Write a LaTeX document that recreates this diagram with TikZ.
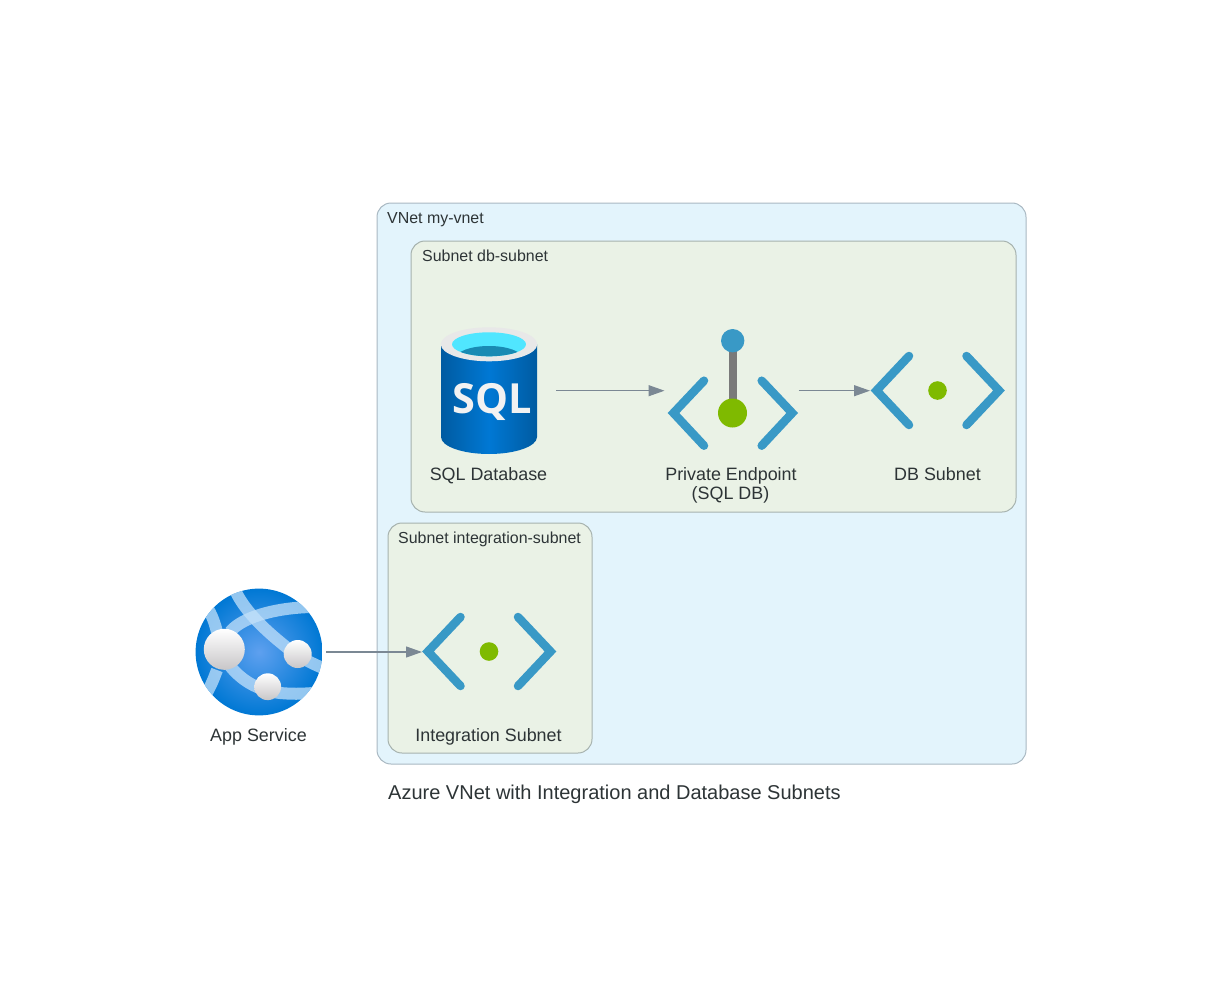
\documentclass[tikz,border=0pt]{standalone}
\usepackage{fontspec}
\setmainfont{Liberation Sans}
\newfontfamily\sqlfont{Open Sans}
\usetikzlibrary{arrows.meta}

\definecolor{inkdark}{HTML}{2D3436}
\definecolor{edgegray}{HTML}{7B8894}
\definecolor{vnetfill}{HTML}{E3F4FC}
\definecolor{vnetline}{HTML}{A9B8C2}
\definecolor{subnetfill}{HTML}{EAF2E6}
\definecolor{subnetline}{HTML}{A6B2AE}
\definecolor{azureblue}{HTML}{3999C6}
\definecolor{azuregreen}{HTML}{7FBA00}
\definecolor{poledark}{HTML}{7A7A7A}
\definecolor{globecore}{HTML}{5EA0EF}
\definecolor{globeedge}{HTML}{0078D4}
\definecolor{globeband}{HTML}{C3E1FA}
\definecolor{sqlside}{HTML}{005BA1}
\definecolor{sqlmiddle}{HTML}{0078D4}
\definecolor{sqlrim}{HTML}{E8E8E8}
\definecolor{sqlwater}{HTML}{50E6FF}
\definecolor{sqldeep}{HTML}{198AB3}
\definecolor{ballshade}{HTML}{C8C6C8}

\tikzset{
    vnetbox/.style = {draw = vnetline, fill = vnetfill, line width = 1pt, rounded corners = 14pt},
    subnetbox/.style = {draw = subnetline, fill = subnetfill, line width = 1pt, rounded corners = 14pt},
    groupname/.style = {anchor = base west, text = inkdark, font = \fontsize{15.95}{18}\selectfont},
    iconname/.style = {text = inkdark, anchor = base, inner sep = 0pt, font = \fontsize{17.9}{18}\selectfont},
    iconspot/.style = {minimum width = 134pt, minimum height = 10pt, inner sep = 0pt, outer sep = 0pt},
    flow/.style = {draw = edgegray, line width = 1.2pt, -{Triangle[length = 16pt, width = 11pt, fill = edgegray]}},
    chevron/.style = {draw = azureblue, line width = 8.5pt, line cap = round, line join = miter},
    ball/.style = {top color = white, bottom color = ballshade, draw = none},
    band/.style = {draw = globeband, opacity = .75, line width = 12pt},
    subneticon/.pic = {
        \draw [chevron] (-28.5, -34.5) -- (-61, 0) -- (-28.5, 34.5);
        \draw [chevron] (29, -34.5) -- (61.5, 0) -- (29, 34.5);
        \fill [azuregreen] (0, 0) circle (9.3);
    }
}

\begin{document}
\begin{tikzpicture}[x = 1pt, y = -1pt, >= stealth]
    \useasboundingbox (0, 0) rectangle (1229, 998);

    \draw [vnetbox] (377, 203) rectangle (1026, 764);
    \draw [subnetbox] (411, 241) rectangle (1016, 512);
    \draw [subnetbox] (388, 523) rectangle (592, 753);

    \node [groupname, inner sep = 0pt] (vnetname) at (387, 223) {VNet my-vnet};
    \node [groupname, inner sep = 0pt] (dbname) at (422, 261) {Subnet db-subnet};
    \node [groupname, inner sep = 0pt] (integrationname) at (398, 543) {Subnet integration-subnet};

    %%%%%%%%%%%%%%%%%%%%
    \node [iconspot] (appservice) at (259, 652) {};
    \node [iconspot] (sqldb) at (489, 390.7) {};
    \node [iconspot] (endpoint) at (731.5, 390.7) {};
    \node [iconspot] (dbsubnet) at (937, 390.7) {};
    \node [iconspot] (integration) at (489, 652) {};

    %%%%%%%%%%%%%%%%%%%%
    \begin{scope}[shift = {(259, 652)}]
        \shade [inner color = globecore, outer color = globeedge] (0, 0) circle (63.4);
        \begin{scope}
            \clip (0, 0) circle (63.4);
            \draw [band] (-24, -62) .. controls (-14, -40) and (8, -20) .. (31, -2) .. controls (42, 6) and (52, 11) .. (66, 17);
            \draw [band] (-29, -20) .. controls (-18, -34) and (14, -44) .. (52, -45);
            \draw [band] (-32, 10) .. controls (-22, 24) and (-6, 38) .. (21, 41) .. controls (32, 42) and (42, 42) .. (54, 41);
            \draw [band] (-53, -46) .. controls (-47, -38) and (-44, -28) .. (-42, -20);
            \draw [band] (-42, 18) .. controls (-45, 26) and (-48, 34) .. (-53, 42);
        \end{scope}
        \shade [ball] (-34.7, -2.7) circle (20.5);
        \shade [ball] (38.7, 2) circle (14);
        \shade [ball] (8.7, 34.7) circle (13.4);
    \end{scope}

    %%%%%%%%%%%%%%%%%%%%
    \shade [left color = sqlside, right color = sqlside, middle color = sqlmiddle]
        (441, 344.3) -- (441, 437) arc [start angle = 180, end angle = 0, x radius = 48, y radius = 17] -- (537, 344.3) -- cycle;
    \fill [sqlrim] (489, 344.3) ellipse [x radius = 48.2, y radius = 17];
    \begin{scope}
        \clip (489, 344.3) ellipse [x radius = 37, y radius = 12];
        \fill [sqlwater] (452, 332) rectangle (526, 357);
        \fill [sqldeep] (489, 358) ellipse [x radius = 33, y radius = 12];
    \end{scope}
    \node [text = black!5, inner sep = 0pt, font = \sqlfont\bfseries\fontsize{41.5}{42}\selectfont] (sqlword) at (492, 402) {SQL};

    %%%%%%%%%%%%%%%%%%%%
    \draw [chevron] (704, 380.7) -- (673.5, 413) -- (704, 445.7);
    \draw [chevron] (761.7, 380.7) -- (792.2, 413) -- (761.7, 445.7);
    \draw [poledark, line width = 8pt] (732.7, 340) -- (732.7, 413);
    \fill [azureblue] (732.7, 340.7) circle (11.7);
    \fill [azuregreen] (732.5, 413) circle (14.5);

    \pic at (937.5, 390.5) {subneticon};
    \pic at (489, 651.5) {subneticon};

    %%%%%%%%%%%%%%%%%%%%
    \draw [flow] (sqldb.east) -- (endpoint.west);
    \draw [flow] (endpoint.east) -- (dbsubnet.west);
    \draw [flow] (appservice.east) -- (integration.west);

    \node [iconname] (appname) at (258.5, 741) {App Service};
    \node [iconname] (sqlname) at (488.5, 480) {SQL Database};
    \node [iconname] (endpointname) at (731, 480.7) {Private Endpoint};
    \node [iconname] (endpointnote) at (730.5, 499) {(SQL DB)};
    \node [iconname] (subnetname) at (937.5, 480) {DB Subnet};
    \node [iconname] (integrationlabel) at (488.5, 741) {Integration Subnet};

    \node [text = inkdark, anchor = base west, inner sep = 0pt, font = \fontsize{20}{22}\selectfont] (title) at (388, 799) {Azure VNet with Integration and Database Subnets};
\end{tikzpicture}
\end{document}
